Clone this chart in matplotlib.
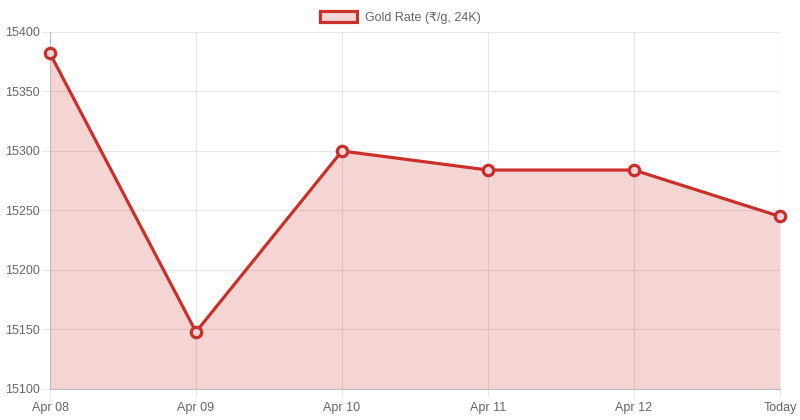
import matplotlib
matplotlib.use('Agg')
import matplotlib.pyplot as plt
from matplotlib.patches import Patch

plt.rcParams['font.family'] = ['Liberation Sans', 'DejaVu Sans']

labels = ['Apr 08', 'Apr 09', 'Apr 10', 'Apr 11', 'Apr 12', 'Today']
rates = [15382, 15148, 15300, 15284, 15284, 15245]
yticks = [15100, 15150, 15200, 15250, 15300, 15350, 15400]

line_col = '#c9302c'
fill_col = (201/255, 48/255, 44/255, 0.2)
grid_col = '#e6e6e6'
text_col = '#666666'

fig = plt.figure(figsize=(8, 4.2), dpi=100)
ax = fig.add_axes([50/800, 31/420, 730/800, 357/420])

x = list(range(len(labels)))
ax.fill_between(x, rates, 15100, color=fill_col, linewidth=0, zorder=2)
ax.plot(x, rates, color=line_col, lw=2.3, zorder=3, clip_on=False,
        marker='o', ms=7.5, mew=2.3, mfc=(0.96, 0.84, 0.84), mec=line_col)

ax.set_xlim(0, len(labels) - 1)
ax.set_ylim(15100, 15400)
ax.set_xticks(x)
ax.set_xticklabels(labels)
ax.set_yticks(yticks)
ax.grid(True, color=grid_col, lw=0.8, zorder=0)
ax.tick_params(colors=grid_col, labelcolor=text_col, labelsize=9, length=6, width=0.8)
ax.tick_params(axis='y', pad=1.5)
for s in ['top', 'right']:
    ax.spines[s].set_visible(False)
ax.spines['left'].set_color('#bdbdbd')
ax.spines['bottom'].set_color('#bdbdbd')
ax.spines['left'].set_linewidth(0.8)
ax.spines['bottom'].set_linewidth(0.8)

handle = Patch(facecolor=(0.96, 0.84, 0.84), edgecolor=line_col, linewidth=2.3)
fig.legend([handle], ['Gold Rate (₹/g, 24K)'], loc='upper center',
           bbox_to_anchor=(0.5, 1.0), frameon=False, fontsize=9,
           labelcolor=text_col, handlelength=3.0, handleheight=0.9, handletextpad=0.6)

fig.savefig('out.png', dpi=100)
